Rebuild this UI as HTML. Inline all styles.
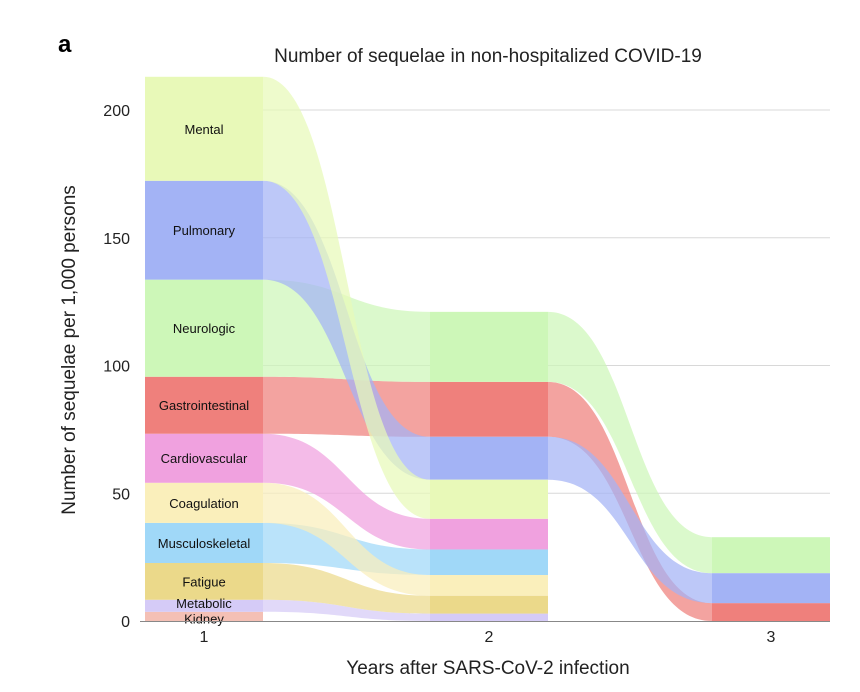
<!DOCTYPE html>
<html><head><meta charset="utf-8"><style>
body{margin:0;background:#fff;}
svg{display:block;font-family:"Liberation Sans",sans-serif;}
</style></head><body>
<svg id="chart" width="860" height="692">
<text x="58" y="52" font-size="24" font-weight="bold">a</text>
<text x="488" y="62" font-size="19" text-anchor="middle" fill="#222">Number of sequelae in non-hospitalized COVID-19</text>
<text transform="translate(75,350) rotate(-90)" font-size="19" text-anchor="middle" fill="#222">Number of sequelae per 1,000 persons</text>
<text x="488" y="674" font-size="19" text-anchor="middle" fill="#222">Years after SARS-CoV-2 infection</text>
<g id="grid"></g><g id="flows"></g><g id="bars"></g><g id="labels"></g><g id="axes"></g>
</svg>
<script>
const categories=["Kidney","Metabolic","Fatigue","Musculoskeletal","Coagulation","Cardiovascular","Gastrointestinal","Neurologic","Pulmonary","Mental"];
const years=["1","2","3"];
const year1Values=[3.6,4.7,14.4,15.7,15.7,19.2,22.3,38,38.7,40.7];
const year2Values=[0,2.9,7.0,10.0,8.1,12.0,21.5,27.4,16.8,15.3];
const year3Values=[0,0,0,0,0,0,7.0,14.1,11.7,0];
const year1Order=["Kidney","Metabolic","Fatigue","Musculoskeletal","Coagulation","Cardiovascular","Gastrointestinal","Neurologic","Pulmonary","Mental"];
const year2Order=["Kidney","Metabolic","Fatigue","Coagulation","Musculoskeletal","Cardiovascular","Mental","Pulmonary","Gastrointestinal","Neurologic"];
const year3Order=["Kidney","Metabolic","Fatigue","Coagulation","Musculoskeletal","Cardiovascular","Mental","Gastrointestinal","Pulmonary","Neurologic"];
const yTicks=[0,50,100,150,200];
const colors={Kidney:"#f4c0b5",Metabolic:"#d5cbf7",Fatigue:"#ebd98a",Musculoskeletal:"#a0d8f8",Coagulation:"#faefbb",Cardiovascular:"#f0a1df",Gastrointestinal:"#ef807c",Neurologic:"#cdf7b8",Pulmonary:"#a3b3f5",Mental:"#e8f9b8"};
const NS="http://www.w3.org/2000/svg";
const y=v=>621-v*2.555;
const barX=[145,430,712], barW=118;
const xc=i=>barX[i]+barW/2;
function mk(tag,attrs,parent){const e=document.createElementNS(NS,tag);for(const k in attrs)e.setAttribute(k,attrs[k]);document.getElementById(parent).appendChild(e);return e;}
const vals=[year1Values,year2Values,year3Values], orders=[year1Order,year2Order,year3Order];
const stacks=vals.map((vs,i)=>{let acc=0;const s={};orders[i].forEach(c=>{const v=vs[categories.indexOf(c)];s[c]=[acc,acc+v];acc+=v;});return s;});
yTicks.forEach(t=>{
  if(t>0){const l=mk("line",{x1:145,x2:830,y1:y(t),y2:y(t),stroke:"#d8d8d8","stroke-width":1},"grid");
  
  }
  const tx=mk("text",{x:130,y:y(t)+6,"font-size":16,"text-anchor":"end",fill:"#222"},"axes");tx.textContent=t;
  
  
});
const base=mk("line",{x1:140,x2:830,y1:621.5,y2:621.5,stroke:"#888","stroke-width":1},"axes");


years.forEach((yr,i)=>{const tx=mk("text",{x:xc(i),y:642,"font-size":16,"text-anchor":"middle",fill:"#222"},"axes");tx.textContent=yr;

});
for(let i=0;i<2;i++){
  const x1=barX[i]+barW,x2=barX[i+1],m=(x1+x2)/2;
  categories.forEach(c=>{
    const a=stacks[i][c],b=stacks[i+1][c];
    if(a[1]-a[0]<=0||b[1]-b[0]<=0)return;
    const d=`M${x1},${y(a[1])} C${m},${y(a[1])} ${m},${y(b[1])} ${x2},${y(b[1])} L${x2},${y(b[0])} C${m},${y(b[0])} ${m},${y(a[0])} ${x1},${y(a[0])} Z`;
    const p=mk("path",{d:d,fill:colors[c],opacity:0.72},"flows");
    
    
  });
}
stacks.forEach((s,i)=>{categories.forEach(c=>{const v=s[c];if(v[1]-v[0]<=0)return;
  const r=mk("rect",{x:barX[i],y:y(v[1]),width:barW,height:y(v[0])-y(v[1]),fill:colors[c]},"bars");
  
  });});
categories.forEach(c=>{const v=stacks[0][c];
  const t=mk("text",{x:xc(0),y:(y(v[0])+y(v[1]))/2+(c==="Kidney"?7:c==="Metabolic"?2:5),"font-size":13,"text-anchor":"middle",fill:"#111"},"labels");
  t.textContent=c;
  
  });
</script>
</body></html>
